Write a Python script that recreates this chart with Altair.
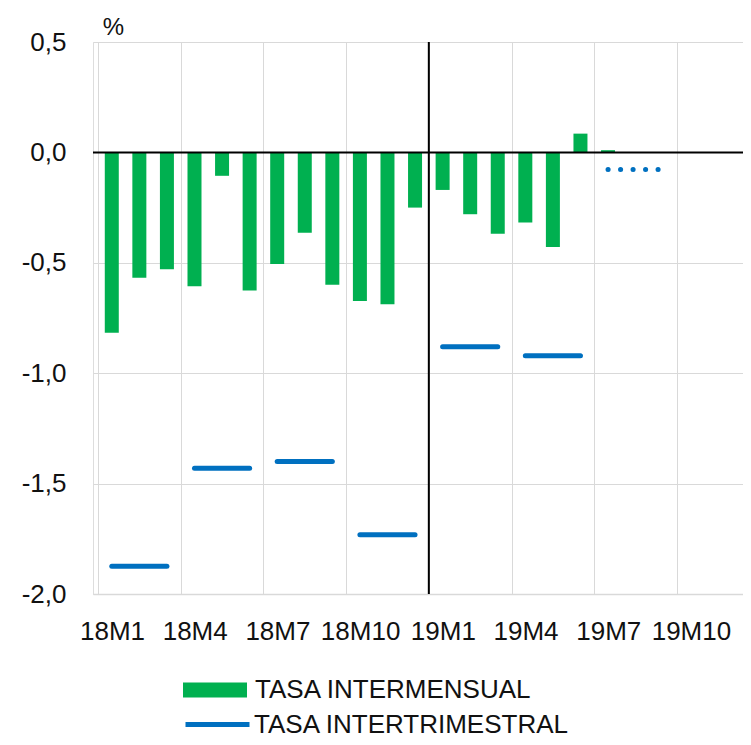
import altair as alt
import pandas as pd

# ---- data ----
months = ["18M1", "18M2", "18M3", "18M4", "18M5", "18M6", "18M7", "18M8", "18M9",
          "18M10", "18M11", "18M12", "19M1", "19M2", "19M3", "19M4", "19M5", "19M6",
          "19M7", "19M8", "19M9", "19M10", "19M11", "19M12"]
intermensual = [-0.817, -0.568, -0.529, -0.606, -0.106, -0.626, -0.505, -0.364, -0.599,
                -0.673, -0.688, -0.25, -0.17, -0.28, -0.368, -0.318, -0.429, 0.085, 0.01]
quarters = ["18T1", "18T2", "18T3", "18T4", "19T1", "19T2", "19T3"]
q_start = ["18M1", "18M4", "18M7", "18M10", "19M1", "19M4", "19M7"]
q_end = ["18M3", "18M6", "18M9", "18M12", "19M3", "19M6", "19M9"]
intertrimestral = [-1.874, -1.43, -1.40, -1.732, -0.88, -0.921, -0.077]
q_provisional = [False, False, False, False, False, False, True]

S_M = "TASA INTERMENSUAL"
S_T = "TASA INTERTRIMESTRAL"
GREEN = "#00B050"
BLUE = "#0070C0"
FONT = "Liberation Sans"

idx = {m: i for i, m in enumerate(months)}
df_m = pd.DataFrame({
    "mes": months[:len(intermensual)],
    "valor": intermensual,
})
df_m["pos"] = [idx[m] + 0.5 for m in df_m["mes"]]
df_m["serie_m"] = S_M

df_q = pd.DataFrame({
    "trimestre": quarters,
    "x1": [idx[m] + 0.5 for m in q_start],
    "x2": [idx[m] + 0.5 for m in q_end],
    "valor": intertrimestral,
    "prov": q_provisional,
})
df_q["serie_t"] = S_T

tick_labels = months[::3]
tick_vals = [idx[m] for m in tick_labels]
label_expr = "[" + ",".join("'%s'" % t for t in tick_labels) + "][datum.value / 3]"

W, H = 650, 552
x_dom = [0, W / 28.0]

xscale = alt.Scale(domain=x_dom, nice=False, zero=False)
yscale = alt.Scale(domain=[-2.0, 0.5], nice=False)

x_axis = alt.Axis(values=tick_vals, grid=True, gridColor="#d9d9d9", gridWidth=1,
                  domain=True, domainColor="#d9d9d9", domainWidth=1.5, ticks=False,
                  labelExpr=label_expr, labelOffset=14, labelOverlap=False,
                  labelFont=FONT, labelFontSize=26, labelColor="#111111",
                  labelPadding=24, labelBound=False, labelFlush=False, title=None)
y_axis = alt.Axis(values=[-2.0, -1.5, -1.0, -0.5, 0.0, 0.5], grid=True,
                  gridColor="#d9d9d9", gridWidth=1, domain=False, ticks=False,
                  labelExpr="(datum.value < 0 ? '-' : '') + replace(format(abs(datum.value), '.1f'), '.', ',')",
                  labelFont=FONT, labelFontSize=26, labelColor="#111111",
                  labelPadding=27, title="%", titleAngle=0, titleX=20, titleY=-8,
                  titleAlign="center", titleBaseline="alphabetic",
                  titleFont=FONT, titleFontSize=24, titleFontWeight="normal",
                  titleColor="#111111")

base_x = alt.X("pos:Q", scale=xscale, axis=x_axis)

legend_common = dict(orient="none", labelFont=FONT, labelFontSize=26,
                     labelColor="#111111", labelLimit=500)

bars = alt.Chart(df_m).mark_bar(size=14, clip=True).encode(
    x=base_x,
    y=alt.Y("valor:Q", scale=yscale, axis=y_axis),
    fill=alt.Fill("serie_m:N", title=None,
                  scale=alt.Scale(domain=[S_M], range=[GREEN]),
                  legend=alt.Legend(legendX=90, legendY=616,
                                    symbolType="M-1,-0.234H1V0.234H-1Z",
                                    symbolSize=4096, symbolStrokeWidth=0,
                                    labelOffset=8, **legend_common)),
)

zero_line = alt.Chart(pd.DataFrame({"y": [0.0]})).mark_rule(
    color="#000000", strokeWidth=2).encode(
    y=alt.Y("y:Q", scale=yscale),
)

vline = alt.Chart(pd.DataFrame({"x": [idx["19M1"]]})).mark_rule(
    color="#000000", strokeWidth=2).encode(
    x=alt.X("x:Q", scale=xscale),
)

solid = alt.Chart(df_q[~df_q["prov"]]).mark_rule(
    strokeWidth=5, strokeCap="round").encode(
    x=alt.X("x1:Q", scale=xscale),
    x2="x2:Q",
    y=alt.Y("valor:Q", scale=yscale),
    stroke=alt.Stroke("serie_t:N", title=None,
                      scale=alt.Scale(domain=[S_T], range=[BLUE]),
                      legend=alt.Legend(legendX=90, legendY=648,
                                        symbolType="stroke", symbolSize=4096,
                                        symbolStrokeWidth=5, labelOffset=2,
                                        **legend_common)),
)

dotted = alt.Chart(df_q[df_q["prov"]]).mark_rule(
    strokeWidth=5, strokeCap="round", strokeDash=[0.1, 12.4], color=BLUE).encode(
    x=alt.X("x1:Q", scale=xscale),
    x2="x2:Q",
    y=alt.Y("valor:Q", scale=yscale),
)

chart = alt.layer(bars, zero_line, vline, solid, dotted).properties(
    width=W, height=H,
    autosize=alt.AutoSizeParams(type="none"),
    padding={"left": 85, "top": 34, "right": 0, "bottom": 143},
).configure_view(stroke=None).configure(background="white")

chart.save("out.html", embed_options={"renderer": "svg", "actions": False})
